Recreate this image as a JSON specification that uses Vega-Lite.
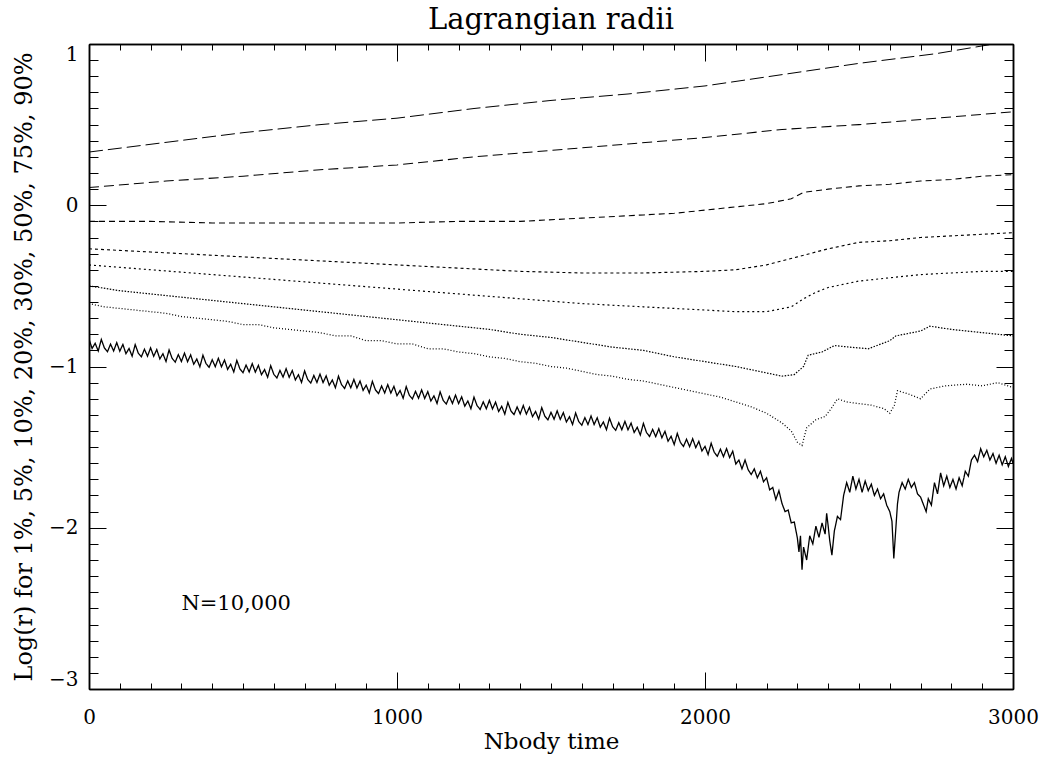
{
  "$schema": "https://vega.github.io/schema/vega-lite/v6.json",
  "width": 924,
  "height": 645,
  "autosize": {"type": "none"},
  "padding": {"left": 89, "top": 44, "right": 33, "bottom": 69},
  "background": "white",
  "title": {"text": "Lagrangian radii", "font": "DejaVu Serif", "fontSize": 29, "fontWeight": "normal", "color": "black", "offset": 9},
  "config": {
    "view": {"stroke": null},
    "axis": {"grid": false, "domainColor": "black", "domainWidth": 1.5, "tickColor": "black", "tickWidth": 1, "labelColor": "black", "titleColor": "black", "labelFont": "DejaVu Serif", "titleFont": "DejaVu Serif", "labelFontSize": 20, "titleFontSize": 23, "titleFontWeight": "normal", "labelOverlap": false}
  },
  "datasets": {
    "radii": [
      {"s":"1%","t":0,"r":-0.830},{"s":"1%","t":10,"r":-0.888},{"s":"1%","t":20,"r":-0.856},{"s":"1%","t":30,"r":-0.904},{"s":"1%","t":40,"r":-0.832},{"s":"1%","t":50,"r":-0.885},{"s":"1%","t":60,"r":-0.908},{"s":"1%","t":70,"r":-0.861},{"s":"1%","t":80,"r":-0.904},{"s":"1%","t":90,"r":-0.852},
      {"s":"1%","t":100,"r":-0.905},{"s":"1%","t":110,"r":-0.863},{"s":"1%","t":120,"r":-0.921},{"s":"1%","t":130,"r":-0.888},{"s":"1%","t":140,"r":-0.936},{"s":"1%","t":150,"r":-0.864},{"s":"1%","t":160,"r":-0.917},{"s":"1%","t":170,"r":-0.940},{"s":"1%","t":180,"r":-0.893},{"s":"1%","t":190,"r":-0.936},
      {"s":"1%","t":200,"r":-0.884},{"s":"1%","t":210,"r":-0.937},{"s":"1%","t":220,"r":-0.895},{"s":"1%","t":230,"r":-0.953},{"s":"1%","t":240,"r":-0.921},{"s":"1%","t":250,"r":-0.969},{"s":"1%","t":260,"r":-0.897},{"s":"1%","t":270,"r":-0.950},{"s":"1%","t":280,"r":-0.973},{"s":"1%","t":290,"r":-0.926},
      {"s":"1%","t":300,"r":-0.969},{"s":"1%","t":310,"r":-0.917},{"s":"1%","t":320,"r":-0.970},{"s":"1%","t":330,"r":-0.928},{"s":"1%","t":340,"r":-0.986},{"s":"1%","t":350,"r":-0.954},{"s":"1%","t":360,"r":-1.002},{"s":"1%","t":370,"r":-0.930},{"s":"1%","t":380,"r":-0.982},{"s":"1%","t":390,"r":-1.005},
      {"s":"1%","t":400,"r":-0.958},{"s":"1%","t":410,"r":-1.001},{"s":"1%","t":420,"r":-0.949},{"s":"1%","t":430,"r":-1.002},{"s":"1%","t":440,"r":-0.960},{"s":"1%","t":450,"r":-1.018},{"s":"1%","t":460,"r":-0.986},{"s":"1%","t":470,"r":-1.034},{"s":"1%","t":480,"r":-0.962},{"s":"1%","t":490,"r":-1.015},
      {"s":"1%","t":500,"r":-1.038},{"s":"1%","t":510,"r":-0.991},{"s":"1%","t":520,"r":-1.034},{"s":"1%","t":530,"r":-0.982},{"s":"1%","t":540,"r":-1.035},{"s":"1%","t":550,"r":-0.993},{"s":"1%","t":560,"r":-1.051},{"s":"1%","t":570,"r":-1.019},{"s":"1%","t":580,"r":-1.067},{"s":"1%","t":590,"r":-0.995},
      {"s":"1%","t":600,"r":-1.048},{"s":"1%","t":610,"r":-1.071},{"s":"1%","t":620,"r":-1.024},{"s":"1%","t":630,"r":-1.066},{"s":"1%","t":640,"r":-1.014},{"s":"1%","t":650,"r":-1.067},{"s":"1%","t":660,"r":-1.025},{"s":"1%","t":670,"r":-1.083},{"s":"1%","t":680,"r":-1.051},{"s":"1%","t":690,"r":-1.099},
      {"s":"1%","t":700,"r":-1.027},{"s":"1%","t":710,"r":-1.080},{"s":"1%","t":720,"r":-1.103},{"s":"1%","t":730,"r":-1.056},{"s":"1%","t":740,"r":-1.099},{"s":"1%","t":750,"r":-1.047},{"s":"1%","t":760,"r":-1.100},{"s":"1%","t":770,"r":-1.058},{"s":"1%","t":780,"r":-1.116},{"s":"1%","t":790,"r":-1.084},
      {"s":"1%","t":800,"r":-1.132},{"s":"1%","t":810,"r":-1.060},{"s":"1%","t":820,"r":-1.113},{"s":"1%","t":830,"r":-1.136},{"s":"1%","t":840,"r":-1.089},{"s":"1%","t":850,"r":-1.132},{"s":"1%","t":860,"r":-1.080},{"s":"1%","t":870,"r":-1.133},{"s":"1%","t":880,"r":-1.090},{"s":"1%","t":890,"r":-1.148},
      {"s":"1%","t":900,"r":-1.116},{"s":"1%","t":910,"r":-1.164},{"s":"1%","t":920,"r":-1.092},{"s":"1%","t":930,"r":-1.145},{"s":"1%","t":940,"r":-1.168},{"s":"1%","t":950,"r":-1.121},{"s":"1%","t":960,"r":-1.164},{"s":"1%","t":970,"r":-1.112},{"s":"1%","t":980,"r":-1.165},{"s":"1%","t":990,"r":-1.123},
      {"s":"1%","t":1000,"r":-1.181},{"s":"1%","t":1010,"r":-1.149},{"s":"1%","t":1020,"r":-1.197},{"s":"1%","t":1030,"r":-1.125},{"s":"1%","t":1040,"r":-1.178},{"s":"1%","t":1050,"r":-1.201},{"s":"1%","t":1060,"r":-1.154},{"s":"1%","t":1070,"r":-1.197},{"s":"1%","t":1080,"r":-1.145},{"s":"1%","t":1090,"r":-1.198},
      {"s":"1%","t":1100,"r":-1.156},{"s":"1%","t":1110,"r":-1.214},{"s":"1%","t":1120,"r":-1.182},{"s":"1%","t":1130,"r":-1.229},{"s":"1%","t":1140,"r":-1.157},{"s":"1%","t":1150,"r":-1.210},{"s":"1%","t":1160,"r":-1.233},{"s":"1%","t":1170,"r":-1.186},{"s":"1%","t":1180,"r":-1.229},{"s":"1%","t":1190,"r":-1.177},
      {"s":"1%","t":1200,"r":-1.230},{"s":"1%","t":1210,"r":-1.188},{"s":"1%","t":1220,"r":-1.246},{"s":"1%","t":1230,"r":-1.214},{"s":"1%","t":1240,"r":-1.262},{"s":"1%","t":1250,"r":-1.190},{"s":"1%","t":1260,"r":-1.243},{"s":"1%","t":1270,"r":-1.266},{"s":"1%","t":1280,"r":-1.219},{"s":"1%","t":1290,"r":-1.262},
      {"s":"1%","t":1300,"r":-1.210},{"s":"1%","t":1310,"r":-1.263},{"s":"1%","t":1320,"r":-1.221},{"s":"1%","t":1330,"r":-1.279},{"s":"1%","t":1340,"r":-1.247},{"s":"1%","t":1350,"r":-1.295},{"s":"1%","t":1360,"r":-1.223},{"s":"1%","t":1370,"r":-1.276},{"s":"1%","t":1380,"r":-1.298},{"s":"1%","t":1390,"r":-1.251},
      {"s":"1%","t":1400,"r":-1.294},{"s":"1%","t":1410,"r":-1.242},{"s":"1%","t":1420,"r":-1.295},{"s":"1%","t":1430,"r":-1.253},{"s":"1%","t":1440,"r":-1.311},{"s":"1%","t":1450,"r":-1.279},{"s":"1%","t":1460,"r":-1.327},{"s":"1%","t":1470,"r":-1.255},{"s":"1%","t":1480,"r":-1.308},{"s":"1%","t":1490,"r":-1.331},
      {"s":"1%","t":1500,"r":-1.284},{"s":"1%","t":1510,"r":-1.327},{"s":"1%","t":1520,"r":-1.275},{"s":"1%","t":1530,"r":-1.328},{"s":"1%","t":1540,"r":-1.286},{"s":"1%","t":1550,"r":-1.344},{"s":"1%","t":1560,"r":-1.312},{"s":"1%","t":1570,"r":-1.360},{"s":"1%","t":1580,"r":-1.288},{"s":"1%","t":1590,"r":-1.341},
      {"s":"1%","t":1600,"r":-1.364},{"s":"1%","t":1610,"r":-1.317},{"s":"1%","t":1620,"r":-1.360},{"s":"1%","t":1630,"r":-1.307},{"s":"1%","t":1640,"r":-1.360},{"s":"1%","t":1650,"r":-1.318},{"s":"1%","t":1660,"r":-1.376},{"s":"1%","t":1670,"r":-1.344},{"s":"1%","t":1680,"r":-1.392},{"s":"1%","t":1690,"r":-1.320},
      {"s":"1%","t":1700,"r":-1.373},{"s":"1%","t":1710,"r":-1.396},{"s":"1%","t":1720,"r":-1.349},{"s":"1%","t":1730,"r":-1.392},{"s":"1%","t":1740,"r":-1.340},{"s":"1%","t":1750,"r":-1.393},{"s":"1%","t":1760,"r":-1.351},{"s":"1%","t":1770,"r":-1.409},{"s":"1%","t":1780,"r":-1.377},{"s":"1%","t":1790,"r":-1.425},
      {"s":"1%","t":1800,"r":-1.353},{"s":"1%","t":1810,"r":-1.409},{"s":"1%","t":1820,"r":-1.434},{"s":"1%","t":1830,"r":-1.390},{"s":"1%","t":1840,"r":-1.435},{"s":"1%","t":1850,"r":-1.386},{"s":"1%","t":1860,"r":-1.442},{"s":"1%","t":1870,"r":-1.402},{"s":"1%","t":1880,"r":-1.463},{"s":"1%","t":1890,"r":-1.433},
      {"s":"1%","t":1900,"r":-1.484},{"s":"1%","t":1910,"r":-1.415},{"s":"1%","t":1920,"r":-1.470},{"s":"1%","t":1930,"r":-1.496},{"s":"1%","t":1940,"r":-1.451},{"s":"1%","t":1950,"r":-1.497},{"s":"1%","t":1960,"r":-1.448},{"s":"1%","t":1970,"r":-1.503},{"s":"1%","t":1980,"r":-1.464},{"s":"1%","t":1990,"r":-1.524},
      {"s":"1%","t":2000,"r":-1.495},{"s":"1%","t":2010,"r":-1.546},{"s":"1%","t":2020,"r":-1.476},{"s":"1%","t":2030,"r":-1.532},{"s":"1%","t":2040,"r":-1.557},{"s":"1%","t":2050,"r":-1.513},{"s":"1%","t":2060,"r":-1.559},{"s":"1%","t":2070,"r":-1.509},{"s":"1%","t":2080,"r":-1.565},{"s":"1%","t":2090,"r":-1.525},
      {"s":"1%","t":2100,"r":-1.605},{"s":"1%","t":2110,"r":-1.580},{"s":"1%","t":2120,"r":-1.635},{"s":"1%","t":2130,"r":-1.580},{"s":"1%","t":2140,"r":-1.640},{"s":"1%","t":2150,"r":-1.670},{"s":"1%","t":2160,"r":-1.635},{"s":"1%","t":2170,"r":-1.690},{"s":"1%","t":2180,"r":-1.650},{"s":"1%","t":2190,"r":-1.715},
      {"s":"1%","t":2200,"r":-1.690},{"s":"1%","t":2210,"r":-1.765},{"s":"1%","t":2220,"r":-1.750},{"s":"1%","t":2230,"r":-1.825},{"s":"1%","t":2240,"r":-1.770},{"s":"1%","t":2250,"r":-1.850},{"s":"1%","t":2260,"r":-1.900},{"s":"1%","t":2270,"r":-1.890},{"s":"1%","t":2280,"r":-1.970},{"s":"1%","t":2290,"r":-1.965},
      {"s":"1%","t":2300,"r":-2.065},{"s":"1%","t":2305,"r":-2.15},{"s":"1%","t":2310,"r":-2.05},{"s":"1%","t":2315,"r":-2.26},{"s":"1%","t":2320,"r":-2.12},{"s":"1%","t":2330,"r":-2.20},{"s":"1%","t":2340,"r":-2.05},{"s":"1%","t":2350,"r":-2.10},{"s":"1%","t":2360,"r":-1.99},{"s":"1%","t":2370,"r":-2.06},
      {"s":"1%","t":2380,"r":-1.97},{"s":"1%","t":2390,"r":-2.04},{"s":"1%","t":2395,"r":-1.91},{"s":"1%","t":2400,"r":-1.99},{"s":"1%","t":2405,"r":-2.08},{"s":"1%","t":2412,"r":-2.17},{"s":"1%","t":2420,"r":-2.02},{"s":"1%","t":2430,"r":-1.93},{"s":"1%","t":2440,"r":-1.95},{"s":"1%","t":2450,"r":-1.80},
      {"s":"1%","t":2460,"r":-1.72},{"s":"1%","t":2470,"r":-1.78},{"s":"1%","t":2480,"r":-1.68},{"s":"1%","t":2490,"r":-1.76},{"s":"1%","t":2500,"r":-1.70},{"s":"1%","t":2510,"r":-1.78},{"s":"1%","t":2520,"r":-1.71},{"s":"1%","t":2530,"r":-1.77},{"s":"1%","t":2540,"r":-1.73},{"s":"1%","t":2550,"r":-1.80},
      {"s":"1%","t":2560,"r":-1.76},{"s":"1%","t":2570,"r":-1.82},{"s":"1%","t":2580,"r":-1.79},{"s":"1%","t":2590,"r":-1.86},{"s":"1%","t":2600,"r":-1.90},{"s":"1%","t":2607,"r":-1.96},{"s":"1%","t":2613,"r":-2.19},{"s":"1%","t":2618,"r":-2.05},{"s":"1%","t":2625,"r":-1.85},{"s":"1%","t":2630,"r":-1.78},
      {"s":"1%","t":2640,"r":-1.72},{"s":"1%","t":2650,"r":-1.76},{"s":"1%","t":2660,"r":-1.70},{"s":"1%","t":2670,"r":-1.75},{"s":"1%","t":2680,"r":-1.72},{"s":"1%","t":2690,"r":-1.79},{"s":"1%","t":2700,"r":-1.81},{"s":"1%","t":2710,"r":-1.86},{"s":"1%","t":2718,"r":-1.90},{"s":"1%","t":2725,"r":-1.82},
      {"s":"1%","t":2735,"r":-1.86},{"s":"1%","t":2745,"r":-1.72},{"s":"1%","t":2755,"r":-1.79},{"s":"1%","t":2765,"r":-1.66},{"s":"1%","t":2775,"r":-1.74},{"s":"1%","t":2785,"r":-1.68},{"s":"1%","t":2795,"r":-1.75},{"s":"1%","t":2805,"r":-1.70},{"s":"1%","t":2815,"r":-1.76},{"s":"1%","t":2825,"r":-1.69},
      {"s":"1%","t":2835,"r":-1.74},{"s":"1%","t":2845,"r":-1.65},{"s":"1%","t":2855,"r":-1.68},{"s":"1%","t":2865,"r":-1.58},{"s":"1%","t":2875,"r":-1.55},{"s":"1%","t":2885,"r":-1.59},{"s":"1%","t":2895,"r":-1.51},{"s":"1%","t":2905,"r":-1.56},{"s":"1%","t":2915,"r":-1.52},{"s":"1%","t":2925,"r":-1.58},
      {"s":"1%","t":2935,"r":-1.54},{"s":"1%","t":2945,"r":-1.60},{"s":"1%","t":2955,"r":-1.55},{"s":"1%","t":2965,"r":-1.61},{"s":"1%","t":2975,"r":-1.56},{"s":"1%","t":2985,"r":-1.62},{"s":"1%","t":2995,"r":-1.57},{"s":"1%","t":3000,"r":-1.60},
      {"s":"5%","t":0,"r":-0.61},{"s":"5%","t":50,"r":-0.63},{"s":"5%","t":100,"r":-0.64},{"s":"5%","t":150,"r":-0.65},{"s":"5%","t":200,"r":-0.66},{"s":"5%","t":250,"r":-0.67},{"s":"5%","t":300,"r":-0.69},{"s":"5%","t":350,"r":-0.70},{"s":"5%","t":400,"r":-0.71},{"s":"5%","t":450,"r":-0.72},{"s":"5%","t":500,"r":-0.74},{"s":"5%","t":550,"r":-0.74},{"s":"5%","t":600,"r":-0.76},{"s":"5%","t":650,"r":-0.77},{"s":"5%","t":700,"r":-0.78},{"s":"5%","t":750,"r":-0.79},{"s":"5%","t":800,"r":-0.81},{"s":"5%","t":850,"r":-0.81},{"s":"5%","t":900,"r":-0.84},{"s":"5%","t":950,"r":-0.84},{"s":"5%","t":1000,"r":-0.86},{"s":"5%","t":1050,"r":-0.86},{"s":"5%","t":1100,"r":-0.89},{"s":"5%","t":1150,"r":-0.89},{"s":"5%","t":1200,"r":-0.91},{"s":"5%","t":1250,"r":-0.92},{"s":"5%","t":1300,"r":-0.94},{"s":"5%","t":1350,"r":-0.95},{"s":"5%","t":1400,"r":-0.97},{"s":"5%","t":1450,"r":-0.98},{"s":"5%","t":1500,"r":-1.00},{"s":"5%","t":1550,"r":-1.01},{"s":"5%","t":1600,"r":-1.03},{"s":"5%","t":1650,"r":-1.05},{"s":"5%","t":1700,"r":-1.06},{"s":"5%","t":1750,"r":-1.08},{"s":"5%","t":1800,"r":-1.09},{"s":"5%","t":1850,"r":-1.11},{"s":"5%","t":1900,"r":-1.13},{"s":"5%","t":1950,"r":-1.15},{"s":"5%","t":2000,"r":-1.17},{"s":"5%","t":2050,"r":-1.19},{"s":"5%","t":2100,"r":-1.22},{"s":"5%","t":2150,"r":-1.25},{"s":"5%","t":2200,"r":-1.29},{"s":"5%","t":2250,"r":-1.35},{"s":"5%","t":2280,"r":-1.40},{"s":"5%","t":2300,"r":-1.47},{"s":"5%","t":2315,"r":-1.49},{"s":"5%","t":2330,"r":-1.38},{"s":"5%","t":2360,"r":-1.33},{"s":"5%","t":2390,"r":-1.31},{"s":"5%","t":2410,"r":-1.26},{"s":"5%","t":2430,"r":-1.20},{"s":"5%","t":2460,"r":-1.22},{"s":"5%","t":2500,"r":-1.23},{"s":"5%","t":2540,"r":-1.24},{"s":"5%","t":2580,"r":-1.26},{"s":"5%","t":2600,"r":-1.29},{"s":"5%","t":2615,"r":-1.24},{"s":"5%","t":2625,"r":-1.15},{"s":"5%","t":2660,"r":-1.17},{"s":"5%","t":2700,"r":-1.20},{"s":"5%","t":2730,"r":-1.14},{"s":"5%","t":2780,"r":-1.12},{"s":"5%","t":2850,"r":-1.11},{"s":"5%","t":2900,"r":-1.12},{"s":"5%","t":2950,"r":-1.10},{"s":"5%","t":3000,"r":-1.13},
      {"s":"10%","t":0,"r":-0.50},{"s":"10%","t":100,"r":-0.53},{"s":"10%","t":200,"r":-0.55},{"s":"10%","t":300,"r":-0.57},{"s":"10%","t":400,"r":-0.59},{"s":"10%","t":500,"r":-0.61},{"s":"10%","t":600,"r":-0.63},{"s":"10%","t":700,"r":-0.65},{"s":"10%","t":800,"r":-0.67},{"s":"10%","t":900,"r":-0.69},{"s":"10%","t":1000,"r":-0.71},{"s":"10%","t":1100,"r":-0.73},{"s":"10%","t":1200,"r":-0.75},{"s":"10%","t":1300,"r":-0.77},{"s":"10%","t":1400,"r":-0.80},{"s":"10%","t":1500,"r":-0.82},{"s":"10%","t":1600,"r":-0.85},{"s":"10%","t":1700,"r":-0.88},{"s":"10%","t":1800,"r":-0.90},{"s":"10%","t":1900,"r":-0.94},{"s":"10%","t":2000,"r":-0.97},{"s":"10%","t":2100,"r":-1.00},{"s":"10%","t":2200,"r":-1.04},{"s":"10%","t":2250,"r":-1.06},{"s":"10%","t":2290,"r":-1.05},{"s":"10%","t":2320,"r":-1.00},{"s":"10%","t":2335,"r":-0.93},{"s":"10%","t":2380,"r":-0.91},{"s":"10%","t":2420,"r":-0.87},{"s":"10%","t":2470,"r":-0.88},{"s":"10%","t":2530,"r":-0.89},{"s":"10%","t":2600,"r":-0.84},{"s":"10%","t":2620,"r":-0.81},{"s":"10%","t":2700,"r":-0.78},{"s":"10%","t":2730,"r":-0.75},{"s":"10%","t":2800,"r":-0.77},{"s":"10%","t":2900,"r":-0.79},{"s":"10%","t":3000,"r":-0.81},
      {"s":"20%","t":0,"r":-0.37},{"s":"20%","t":200,"r":-0.40},{"s":"20%","t":400,"r":-0.43},{"s":"20%","t":600,"r":-0.46},{"s":"20%","t":800,"r":-0.49},{"s":"20%","t":1000,"r":-0.52},{"s":"20%","t":1200,"r":-0.55},{"s":"20%","t":1400,"r":-0.58},{"s":"20%","t":1600,"r":-0.61},{"s":"20%","t":1800,"r":-0.63},{"s":"20%","t":2000,"r":-0.65},{"s":"20%","t":2100,"r":-0.66},{"s":"20%","t":2200,"r":-0.66},{"s":"20%","t":2280,"r":-0.63},{"s":"20%","t":2320,"r":-0.58},{"s":"20%","t":2360,"r":-0.54},{"s":"20%","t":2400,"r":-0.51},{"s":"20%","t":2500,"r":-0.47},{"s":"20%","t":2600,"r":-0.45},{"s":"20%","t":2700,"r":-0.43},{"s":"20%","t":2800,"r":-0.42},{"s":"20%","t":2900,"r":-0.41},{"s":"20%","t":3000,"r":-0.41},
      {"s":"30%","t":0,"r":-0.27},{"s":"30%","t":200,"r":-0.29},{"s":"30%","t":400,"r":-0.31},{"s":"30%","t":600,"r":-0.33},{"s":"30%","t":800,"r":-0.35},{"s":"30%","t":1000,"r":-0.37},{"s":"30%","t":1200,"r":-0.39},{"s":"30%","t":1400,"r":-0.41},{"s":"30%","t":1600,"r":-0.42},{"s":"30%","t":1800,"r":-0.42},{"s":"30%","t":2000,"r":-0.41},{"s":"30%","t":2100,"r":-0.40},{"s":"30%","t":2200,"r":-0.37},{"s":"30%","t":2300,"r":-0.32},{"s":"30%","t":2400,"r":-0.27},{"s":"30%","t":2500,"r":-0.23},{"s":"30%","t":2600,"r":-0.22},{"s":"30%","t":2700,"r":-0.20},{"s":"30%","t":2800,"r":-0.19},{"s":"30%","t":2900,"r":-0.18},{"s":"30%","t":3000,"r":-0.17},
      {"s":"50%","t":0,"r":-0.10},{"s":"50%","t":200,"r":-0.10},{"s":"50%","t":400,"r":-0.11},{"s":"50%","t":600,"r":-0.11},{"s":"50%","t":800,"r":-0.11},{"s":"50%","t":1000,"r":-0.11},{"s":"50%","t":1200,"r":-0.10},{"s":"50%","t":1400,"r":-0.10},{"s":"50%","t":1600,"r":-0.08},{"s":"50%","t":1800,"r":-0.06},{"s":"50%","t":1900,"r":-0.05},{"s":"50%","t":2000,"r":-0.03},{"s":"50%","t":2100,"r":-0.01},{"s":"50%","t":2200,"r":0.01},{"s":"50%","t":2280,"r":0.04},{"s":"50%","t":2320,"r":0.08},{"s":"50%","t":2400,"r":0.10},{"s":"50%","t":2500,"r":0.12},{"s":"50%","t":2600,"r":0.13},{"s":"50%","t":2700,"r":0.15},{"s":"50%","t":2800,"r":0.16},{"s":"50%","t":2900,"r":0.18},{"s":"50%","t":3000,"r":0.19},
      {"s":"75%","t":0,"r":0.11},{"s":"75%","t":250,"r":0.15},{"s":"75%","t":500,"r":0.18},{"s":"75%","t":750,"r":0.22},{"s":"75%","t":1000,"r":0.25},{"s":"75%","t":1250,"r":0.30},{"s":"75%","t":1500,"r":0.34},{"s":"75%","t":1750,"r":0.38},{"s":"75%","t":2000,"r":0.42},{"s":"75%","t":2250,"r":0.47},{"s":"75%","t":2500,"r":0.50},{"s":"75%","t":2750,"r":0.54},{"s":"75%","t":3000,"r":0.58},
      {"s":"90%","t":0,"r":0.33},{"s":"90%","t":250,"r":0.39},{"s":"90%","t":500,"r":0.45},{"s":"90%","t":750,"r":0.50},{"s":"90%","t":1000,"r":0.54},{"s":"90%","t":1250,"r":0.60},{"s":"90%","t":1500,"r":0.65},{"s":"90%","t":1750,"r":0.69},{"s":"90%","t":2000,"r":0.74},{"s":"90%","t":2250,"r":0.81},{"s":"90%","t":2500,"r":0.88},{"s":"90%","t":2750,"r":0.94},{"s":"90%","t":3000,"r":1.02}
    ],
    "note": [{"t": 300, "r": -2.47, "label": "N=10,000"}]
  },
  "layer": [
    {
      "data": {"name": "radii"},
      "mark": {"type": "line", "color": "black", "clip": true, "interpolate": "linear"},
      "encoding": {
        "x": {"field": "t", "type": "quantitative", "scale": {"domain": [0, 3000], "nice": false, "zero": false},
          "axis": {"orient": "bottom", "values": [0, 1000, 2000, 3000], "format": "d", "tickSize": -17,
            "labelPadding": 35, "labelFlush": false, "title": "Nbody time", "titlePadding": 3}},
        "y": {"field": "r", "type": "quantitative", "scale": {"domain": [-3, 1], "nice": false, "zero": false},
          "axis": {"orient": "left", "values": [-3, -2, -1, 0, 1], "format": "d", "tickSize": -17,
            "labelPadding": 28, "labelFlush": true, "labelFlushOffset": 0,
            "title": "Log(r) for 1%, 5%, 10%, 20%, 30%, 50%, 75%, 90%", "titleFontSize": 24, "titlePadding": 12}},
        "detail": {"field": "s"},
        "strokeDash": {"field": "s", "type": "nominal", "legend": null,
          "scale": {"domain": ["1%","5%","10%","20%","30%","50%","75%","90%"], "range": [[1,0],[1,2],[1.5,1.5],[2,3],[3,3],[6,4],[10,5],[14,5]]}},
        "strokeWidth": {"field": "s", "type": "nominal", "legend": null,
          "scale": {"domain": ["1%","5%","10%","20%","30%","50%","75%","90%"], "range": [1.3,1,1.4,1.8,1.8,1.6,1.3,1.3]}}
      }
    },
    {
      "data": {"name": "note"},
      "mark": {"type": "text", "align": "left", "baseline": "middle", "font": "DejaVu Serif", "fontSize": 21, "color": "black"},
      "encoding": {
        "x": {"field": "t", "type": "quantitative", "scale": {"domain": [0, 3000], "nice": false, "zero": false},
          "axis": {"orient": "top", "values": [0,100,200,300,400,500,600,700,800,900,1000,1100,1200,1300,1400,1500,1600,1700,1800,1900,2000,2100,2200,2300,2400,2500,2600,2700,2800,2900,3000],
            "labels": false, "title": null, "tickSize": -6}},
        "y": {"field": "r", "type": "quantitative", "scale": {"domain": [-3, 1], "nice": false, "zero": false},
          "axis": {"orient": "right", "values": [-3,-2.9,-2.8,-2.7,-2.6,-2.5,-2.4,-2.3,-2.2,-2.1,-2,-1.9,-1.8,-1.7,-1.6,-1.5,-1.4,-1.3,-1.2,-1.1,-1,-0.9,-0.8,-0.7,-0.6,-0.5,-0.4,-0.3,-0.2,-0.1,0,0.1,0.2,0.3,0.4,0.5,0.6,0.7,0.8,0.9,1],
            "labels": false, "title": null, "tickSize": -9}},
        "text": {"field": "label"}
      }
    },
    {
      "data": {"name": "note"},
      "mark": {"type": "text", "opacity": 0},
      "encoding": {
        "x": {"field": "t", "type": "quantitative", "scale": {"domain": [0, 3000], "nice": false, "zero": false},
          "axis": {"orient": "bottom", "values": [0,100,200,300,400,500,600,700,800,900,1000,1100,1200,1300,1400,1500,1600,1700,1800,1900,2000,2100,2200,2300,2400,2500,2600,2700,2800,2900,3000],
            "labels": false, "title": null, "tickSize": -6}},
        "y": {"field": "r", "type": "quantitative", "scale": {"domain": [-3, 1], "nice": false, "zero": false},
          "axis": {"orient": "left", "values": [-3,-2.9,-2.8,-2.7,-2.6,-2.5,-2.4,-2.3,-2.2,-2.1,-2,-1.9,-1.8,-1.7,-1.6,-1.5,-1.4,-1.3,-1.2,-1.1,-1,-0.9,-0.8,-0.7,-0.6,-0.5,-0.4,-0.3,-0.2,-0.1,0,0.1,0.2,0.3,0.4,0.5,0.6,0.7,0.8,0.9,1],
            "labels": false, "title": null, "tickSize": -9}},
        "text": {"value": ""}
      }
    },
    {
      "data": {"name": "note"},
      "mark": {"type": "text", "opacity": 0},
      "encoding": {
        "x": {"field": "t", "type": "quantitative", "scale": {"domain": [0, 3000], "nice": false, "zero": false},
          "axis": {"orient": "top", "values": [0, 1000, 2000, 3000], "labels": false, "title": null, "tickSize": -17}},
        "y": {"field": "r", "type": "quantitative", "scale": {"domain": [-3, 1], "nice": false, "zero": false},
          "axis": {"orient": "right", "values": [-3, -2, -1, 0, 1], "labels": false, "title": null, "tickSize": -17}},
        "text": {"value": ""}
      }
    }
  ],
  "resolve": {"axis": {"x": "independent", "y": "independent"}}
}
